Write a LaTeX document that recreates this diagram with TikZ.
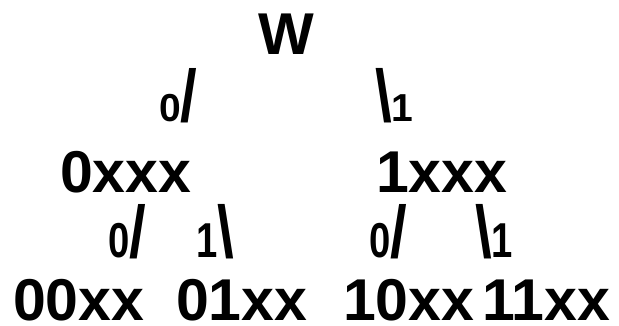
\documentclass[tikz,border=0pt]{standalone}
\usepackage{graphicx}
\usepackage{fontspec}
\setmainfont{Liberation Sans}
\usetikzlibrary{positioning}
\newcommand\bitA[1]{{\fontsize{39}{39}\selectfont #1}}
\newcommand\bitB[1]{\scalebox{0.78}[1]{\fontsize{49}{49}\selectfont #1}}
\newcommand\fwd{\scalebox{1}[1.22]{\fontsize{60}{60}\selectfont /}}
\newcommand\bwd{\scalebox{1}[1.22]{\fontsize{60}{60}\selectfont \textbackslash}}

\begin{document}
\begin{tikzpicture}[x=1pt,y=-1pt,
    every node/.style={inner sep=0pt,outer sep=0pt,text depth=0pt,font=\bfseries\fontsize{59}{59}\selectfont},
    word/.style={anchor=base west},
    edge/.style={anchor=base west}
  ]
    \useasboundingbox (0,0) rectangle (619,326);
    \node[anchor=base] (root) at (286,55) {W};
    % first split
    \node[edge] (e0) at (159,122) {\bitA{0}\fwd};
    \node[edge] (e1) at (375,122) {\bwd\bitA{1}};
    \node[word] (n0) at (60,193) {0xxx};
    \node[word] (n1) at (376,193) {1xxx};
    % second split
    \node[edge] (e00) at (108,258) {\bitB{0}\fwd};
    \node[edge] (e01) at (196,258) {\bitB{1}\bwd};
    \node[edge] (e10) at (369,258) {\bitB{0}\fwd};
    \node[edge] (e11) at (475,258) {\bwd\bitB{1}};
    \node[word] (n00) at (13,320) {00xx};
    \node[word] (n01) at (176,320) {01xx};
    \node[word] (n10) at (343,320) {10xx};
    \node[word] (n11) at (482,320) {11xx};
  \end{tikzpicture}
\end{document}
